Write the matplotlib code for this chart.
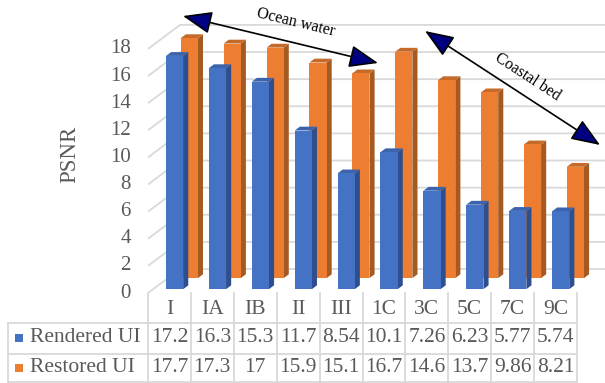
import numpy as np
import matplotlib
matplotlib.use("Agg")
import matplotlib.pyplot as plt
from matplotlib.patches import Polygon, FancyArrowPatch, Rectangle

# data
categories = ["I", "IA", "IB", "II", "III", "1C", "3C", "5C", "7C", "9C"]
rendered = [17.2, 16.3, 15.3, 11.7, 8.54, 10.1, 7.26, 6.23, 5.77, 5.74]
restored = [17.7, 17.3, 17, 15.9, 15.1, 16.7, 14.6, 13.7, 9.86, 8.21]
rendered_txt = ["17.2", "16.3", "15.3", "11.7", "8.54", "10.1", "7.26", "6.23", "5.77", "5.74"]
restored_txt = ["17.7", "17.3", "17", "15.9", "15.1", "16.7", "14.6", "13.7", "9.86", "8.21"]
series_names = ["Rendered UI", "Restored UI"]
yticks = list(range(0, 20, 2))

plt.rcParams['font.family'] = ['Liberation Serif', 'DejaVu Serif']
TXT = "#595959"
GRID = "#d9d9d9"

W, H = 605, 383
fig = plt.figure(figsize=(W / 100, H / 100), dpi=100)

# layout in pixels
x_left = 148          # front edge of plot floor
y_floor = 293         # front floor line
col_w = 42.9          # category width in px
px_per_unit = 13.56   # px per PSNR unit
DX = 32 / col_w       # depth offset in category units
DY = 24 / px_per_unit # depth offset in value units

ax = fig.add_axes([x_left / W, (H - y_floor) / H, (W - x_left) / W, y_floor / H])
ax.set_xlim(0, (W - x_left) / col_w)
ax.set_ylim(0, y_floor / px_per_unit)
ax.axis("off")

# gridlines: left wall diagonal + back wall horizontal
xmax = ax.get_xlim()[1]
for v in yticks:
    ax.plot([0, DX, xmax], [v, v + DY, v + DY], color=GRID, lw=1.3, zorder=1,
            solid_capstyle="butt")
    ax.text(-0.4, v, str(v), ha="right", va="center", fontsize=15, color=TXT)


def bar3d(i, v, depth, thick, front, side, top, z):
    x0 = i + 0.3 + depth * DX
    x1 = x0 + 0.4
    y0 = depth * DY
    y1 = v + depth * DY
    tx, ty = thick * DX, thick * DY
    ax.add_patch(Polygon([(x1, y0), (x1 + tx, y0 + ty), (x1 + tx, y1 + ty), (x1, y1)],
                         closed=True, facecolor=side, edgecolor="none", zorder=z))
    ax.add_patch(Polygon([(x0, y1), (x1, y1), (x1 + tx, y1 + ty), (x0 + tx, y1 + ty)],
                         closed=True, facecolor=top, edgecolor="none", zorder=z))
    ax.add_patch(Rectangle((x0, y0), 0.4, v, facecolor=front, edgecolor="none", zorder=z))


for i, v in enumerate(restored):
    bar3d(i, v, 0.62, 0.16, "#ed7d31", "#a55a22", "#c66a2a", 2)
for i, v in enumerate(rendered):
    bar3d(i, v, 0.16, 0.16, "#4472c4", "#2e4f8f", "#3c64ad", 3)

# overlay axes in pixel coordinates for table, labels, arrows
ov = fig.add_axes([0, 0, 1, 1], zorder=5)
ov.set_xlim(0, W)
ov.set_ylim(H, 0)
ov.axis("off")
ov.patch.set_alpha(0)

ov.text(70, 154, "PSNR", rotation=90, ha="center", va="center", fontsize=16.5, color=TXT)

# data table
n = len(categories)
x_right = x_left + n * col_w
row_top, row_mid, row_bot = 323, 353.5, 382
for k in range(n + 1):
    xk = x_left + k * col_w
    ov.plot([xk, xk], [y_floor, row_bot], color=GRID, lw=1.3)
for yy in [row_top, row_mid, row_bot]:
    ov.plot([8, x_right], [yy, yy], color=GRID, lw=1.3)
ov.plot([8, 8], [row_top, row_bot], color=GRID, lw=1.3)

for k, c in enumerate(categories):
    xc = x_left + (k + 0.5) * col_w
    ov.text(xc, 310, c, ha="center", va="center", fontsize=15.5, color=TXT)
    ov.text(xc, 338, rendered_txt[k], ha="center", va="center", fontsize=15.5, color=TXT)
    ov.text(xc, 368, restored_txt[k], ha="center", va="center", fontsize=15.5, color=TXT)

for yy, name, col in [(338, series_names[0], "#4472c4"), (368, series_names[1], "#ed7d31")]:
    ov.add_patch(Rectangle((15, yy - 4.5), 8, 8, facecolor=col, edgecolor="none"))
    ov.text(30, yy, name, ha="left", va="center", fontsize=15.5, color=TXT)

# annotation arrows
for p0, p1 in [((183, 16), (378, 63)), ((425, 31), (600, 145))]:
    ov.add_patch(FancyArrowPatch(p0, p1, arrowstyle="<|-|>,head_length=0.9,head_width=0.35",
                                 mutation_scale=20, facecolor="#000080", edgecolor="black",
                                 lw=1.2, shrinkA=0, shrinkB=0))
ov.text(296, 23, "Ocean water", rotation=-13.6, ha="center", va="center", fontsize=11.5,
        color="black", rotation_mode="anchor")
ov.text(528, 77, "Coastal bed", rotation=-33, ha="center", va="center", fontsize=11.5,
        color="black", rotation_mode="anchor")

fig.savefig("out.png", dpi=100)
